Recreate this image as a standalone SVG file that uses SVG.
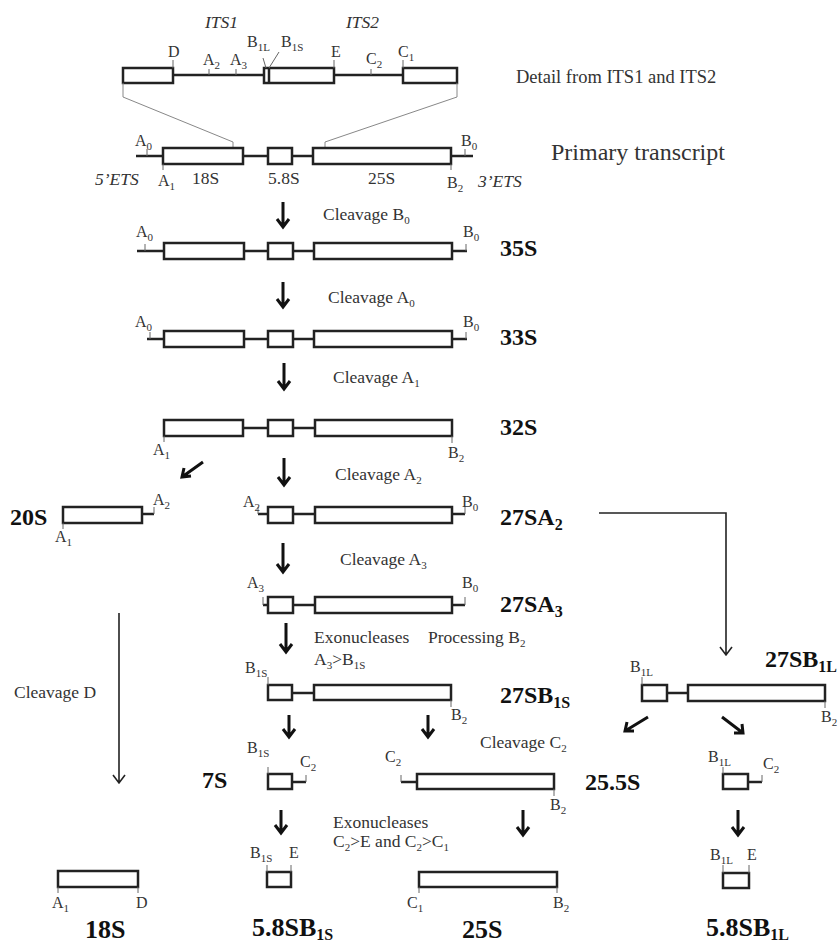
<svg xmlns="http://www.w3.org/2000/svg" width="838" height="945" viewBox="0 0 838 945" font-family="'Liberation Serif', serif">
<style>
text{font-family:"Liberation Serif","Times New Roman",serif;fill:#333}
.l{font-size:16px}
.c{font-size:17.5px}
.i{font-style:italic}
.b{font-size:24px;font-weight:bold;fill:#111}
.bb{font-size:26px;font-weight:bold;fill:#111}
.s{font-size:11px}
.sb{font-size:16px}
.box{fill:#fff;stroke:#222;stroke-width:2.5}
.ln{stroke:#222;stroke-width:2.5;fill:none}
.tk{stroke:#666;stroke-width:1;fill:none}
.zm{stroke:#888;stroke-width:1;fill:none}
.ar{stroke:#111;stroke-width:3;fill:none}
.th{stroke:#222;stroke-width:1.6;fill:none}
</style>
<rect width="838" height="945" fill="#fff"/>

<g id="detail">
<path class="ln" d="M173 75H264M334 75H403"/>
<rect class="box" x="123" y="68" width="50" height="15"/>
<rect class="box" x="264" y="68" width="70" height="15"/>
<path class="ln" d="M269 68V83"/>
<rect class="box" x="403" y="68" width="54" height="15"/>
<path class="tk" d="M173 60V68M209 69V75M236 69V75M334 60V68M371 69V75M403 60V68M263 58L266 68M279 52L269 68"/>
<path class="zm" d="M123 83V97L233 142V149M457 83V97L325 142V149"/>
<text class="c i" x="205" y="28">ITS1</text>
<text class="c i" x="346" y="28">ITS2</text>
<text class="l" x="168" y="57">D</text>
<text class="l" x="203" y="65">A<tspan class="s" dy="4">2</tspan></text>
<text class="l" x="230" y="65">A<tspan class="s" dy="4">3</tspan></text>
<text class="l" x="247" y="47">B<tspan class="s" dy="4">1L</tspan></text>
<text class="l" x="281" y="47">B<tspan class="s" dy="4">1S</tspan></text>
<text class="l" x="331" y="57">E</text>
<text class="l" x="366" y="64">C<tspan class="s" dy="4">2</tspan></text>
<text class="l" x="398" y="57">C<tspan class="s" dy="4">1</tspan></text>
<text x="516" y="83" style="font-size:18.5px">Detail from ITS1 and ITS2</text>
</g>

<g id="primary">
<path class="ln" d="M136 156H473"/>
<rect class="box" x="163" y="148" width="80" height="16"/>
<rect class="box" x="268" y="148" width="24" height="16"/>
<rect class="box" x="313" y="148" width="138" height="16"/>
<path class="tk" d="M147 149V156M465 149V156M163 164V170M451 164V170"/>
<text class="l" x="135" y="146">A<tspan class="s" dy="4">0</tspan></text>
<text class="l" x="461" y="146">B<tspan class="s" dy="4">0</tspan></text>
<text class="l" x="158" y="186">A<tspan class="s" dy="4">1</tspan></text>
<text class="l" x="447" y="188">B<tspan class="s" dy="4">2</tspan></text>
<text class="c" x="192" y="184">18S</text>
<text class="c" x="268" y="184">5.8S</text>
<text class="c" x="368" y="184">25S</text>
<text class="c i" x="95" y="185">5’ETS</text>
<text class="c i" x="478" y="187">3’ETS</text>
<text x="551" y="160" style="font-size:24px">Primary transcript</text>
</g>

<g id="s35">
<path class="ln" d="M137 251H467"/>
<rect class="box" x="164" y="243" width="80" height="16"/>
<rect class="box" x="268" y="243" width="25" height="16"/>
<rect class="box" x="314" y="243" width="138" height="16"/>
<path class="tk" d="M145 244V251M466 244V251"/>
<text class="l" x="136" y="237">A<tspan class="s" dy="4">0</tspan></text>
<text class="l" x="463" y="237">B<tspan class="s" dy="4">0</tspan></text>
<text class="b" x="500" y="256">35S</text>
</g>

<g id="s33">
<path class="ln" d="M147 339H467"/>
<rect class="box" x="164" y="331" width="80" height="16"/>
<rect class="box" x="268" y="331" width="25" height="16"/>
<rect class="box" x="314" y="331" width="138" height="16"/>
<path class="tk" d="M150 332V339M466 332V339"/>
<text class="l" x="135" y="327">A<tspan class="s" dy="4">0</tspan></text>
<text class="l" x="463" y="327">B<tspan class="s" dy="4">0</tspan></text>
<text class="b" x="500" y="345">33S</text>
</g>

<g id="s32">
<path class="ln" d="M244 428H268M293 428H315"/>
<rect class="box" x="164" y="420" width="79" height="16"/>
<rect class="box" x="268" y="420" width="25" height="16"/>
<rect class="box" x="315" y="420" width="137" height="16"/>
<path class="tk" d="M164 436V442M452 436V443"/>
<text class="l" x="153" y="455">A<tspan class="s" dy="4">1</tspan></text>
<text class="l" x="448" y="458">B<tspan class="s" dy="4">2</tspan></text>
<text class="b" x="500" y="435">32S</text>
</g>

<g id="s20">
<path class="ln" d="M142 514H154"/>
<rect class="box" x="63" y="507" width="79" height="16"/>
<path class="tk" d="M154 507V514M63 523V529"/>
<text class="l" x="153" y="505">A<tspan class="s" dy="4">2</tspan></text>
<text class="l" x="55" y="542">A<tspan class="s" dy="4">1</tspan></text>
<text class="b" x="10" y="525">20S</text>
</g>

<g id="s27A2">
<path class="ln" d="M258 514H268M293 514H315M452 514H465"/>
<rect class="box" x="268" y="507" width="25" height="16"/>
<rect class="box" x="315" y="507" width="137" height="16"/>
<path class="tk" d="M258 507V514M465 507V514"/>
<text class="l" x="243" y="507">A<tspan class="s" dy="4">2</tspan></text>
<text class="l" x="462" y="507">B<tspan class="s" dy="4">0</tspan></text>
<text class="b" x="500" y="525">27SA<tspan class="sb" dy="5">2</tspan></text>
</g>

<g id="s27A3">
<path class="ln" d="M263 605H268M293 605H315M452 605H465"/>
<rect class="box" x="268" y="597" width="25" height="16"/>
<rect class="box" x="315" y="597" width="137" height="16"/>
<path class="tk" d="M263 597V605M465 597V605"/>
<text class="l" x="247" y="588">A<tspan class="s" dy="4">3</tspan></text>
<text class="l" x="462" y="588">B<tspan class="s" dy="4">0</tspan></text>
<text class="b" x="500" y="612">27SA<tspan class="sb" dy="5">3</tspan></text>
</g>

<g id="s27B1S">
<path class="ln" d="M292 693H314"/>
<rect class="box" x="268" y="685" width="24" height="15"/>
<rect class="box" x="314" y="685" width="137" height="15"/>
<path class="tk" d="M268 677V685M451 700V707"/>
<text class="l" x="245" y="673">B<tspan class="s" dy="4">1S</tspan></text>
<text class="l" x="451" y="720">B<tspan class="s" dy="4">2</tspan></text>
<text class="b" x="500" y="703">27SB<tspan class="sb" dy="5">1S</tspan></text>
</g>

<g id="s27B1L">
<path class="ln" d="M667 693H688"/>
<rect class="box" x="642" y="685" width="25" height="16"/>
<rect class="box" x="688" y="685" width="137" height="16"/>
<path class="tk" d="M642 677V685M825 701V708"/>
<text class="l" x="630" y="672">B<tspan class="s" dy="4">1L</tspan></text>
<text class="l" x="821" y="722">B<tspan class="s" dy="4">2</tspan></text>
<text class="b" x="765" y="667">27SB<tspan class="sb" dy="5">1L</tspan></text>
</g>

<g id="s7S">
<path class="ln" d="M292 782H306"/>
<rect class="box" x="268" y="774" width="24" height="15"/>
<path class="tk" d="M268 767V774M306 775V782"/>
<text class="l" x="247" y="753">B<tspan class="s" dy="4">1S</tspan></text>
<text class="l" x="300" y="767">C<tspan class="s" dy="4">2</tspan></text>
<text class="b" x="202" y="788">7S</text>
</g>

<g id="s255">
<path class="ln" d="M401 782H417"/>
<rect class="box" x="417" y="774" width="137" height="15"/>
<path class="tk" d="M401 775V782M554 789V796"/>
<text class="l" x="385" y="762">C<tspan class="s" dy="4">2</tspan></text>
<text class="l" x="550" y="810">B<tspan class="s" dy="4">2</tspan></text>
<text class="b" x="585" y="790">25.5S</text>
</g>

<g id="s7L">
<path class="ln" d="M748 782H762"/>
<rect class="box" x="723" y="774" width="25" height="15"/>
<path class="tk" d="M723 767V774M762 775V782"/>
<text class="l" x="708" y="762">B<tspan class="s" dy="4">1L</tspan></text>
<text class="l" x="763" y="769">C<tspan class="s" dy="4">2</tspan></text>
</g>

<g id="f18S">
<rect class="box" x="58" y="871" width="80" height="16"/>
<path class="tk" d="M58 887V893M138 887V893"/>
<text class="l" x="52" y="908">A<tspan class="s" dy="4">1</tspan></text>
<text class="l" x="136" y="908">D</text>
<text class="bb" x="85" y="938">18S</text>
</g>

<g id="f58S">
<rect class="box" x="267" y="872" width="24" height="15"/>
<path class="tk" d="M267 865V872M291 865V872"/>
<text class="l" x="250" y="858">B<tspan class="s" dy="4">1S</tspan></text>
<text class="l" x="289" y="858">E</text>
<text class="bb" x="252" y="936">5.8SB<tspan class="sb" dy="4">1S</tspan></text>
</g>

<g id="f25S">
<rect class="box" x="419" y="872" width="138" height="15"/>
<path class="tk" d="M419 887V893M557 887V893"/>
<text class="l" x="407" y="908">C<tspan class="s" dy="4">1</tspan></text>
<text class="l" x="553" y="908">B<tspan class="s" dy="4">2</tspan></text>
<text class="bb" x="462" y="938">25S</text>
</g>

<g id="f58L">
<rect class="box" x="723" y="873" width="26" height="15"/>
<path class="tk" d="M723 865V873M749 865V873"/>
<text class="l" x="710" y="860">B<tspan class="s" dy="4">1L</tspan></text>
<text class="l" x="747" y="860">E</text>
<text class="bb" x="706" y="936">5.8SB<tspan class="sb" dy="4">1L</tspan></text>
</g>

<g id="connectors">
<path class="ar" d="M283 202V227M277 219L283 227L289 219"/>
<path class="ar" d="M283 282V307M277 299L283 307L289 299"/>
<path class="ar" d="M284 363V389M278 381L284 389L290 381"/>
<path class="ar" d="M284 458V485M278 477L284 485L290 477"/>
<path class="ar" d="M283 543V572M277 564L283 572L289 564"/>
<path class="ar" d="M286 623V652M280 644L286 652L292 644"/>
<path class="ar" d="M289 715V737M283 729L289 737L295 729"/>
<path class="ar" d="M428 715V737M422 729L428 737L434 729"/>
<path class="ar" d="M281 810V833M275 825L281 833L287 825"/>
<path class="ar" d="M523 810V835M517 827L523 835L529 827"/>
<path class="ar" d="M738 810V835M732 827L738 835L744 827"/>
<path class="ar" d="M203 462L182 477M184 468L182 477L191 476"/>
<path class="ar" d="M648 717L625 731M627 722L625 731L634 731"/>
<path class="ar" d="M722 717L743 733M742 724L743 733L734 733"/>
<path class="th" d="M119 613V783M113 775L119 783L125 775"/>
<path class="th" d="M599 513H726V655M720 647L726 655L732 647"/>
<text class="c" x="323" y="220">Cleavage B<tspan class="s" dy="4">0</tspan></text>
<text class="c" x="328" y="303">Cleavage A<tspan class="s" dy="4">0</tspan></text>
<text class="c" x="333" y="383">Cleavage A<tspan class="s" dy="4">1</tspan></text>
<text class="c" x="335" y="480">Cleavage A<tspan class="s" dy="4">2</tspan></text>
<text class="c" x="340" y="565">Cleavage A<tspan class="s" dy="4">3</tspan></text>
<text class="c" x="14" y="698">Cleavage D</text>
<text class="c" x="314" y="643">Exonucleases</text>
<text class="c" x="314" y="665">A<tspan class="s" dy="4">3</tspan><tspan dy="-4">&gt;B</tspan><tspan class="s" dy="4">1S</tspan></text>
<text class="c" x="428" y="643">Processing B<tspan class="s" dy="4">2</tspan></text>
<text class="c" x="480" y="748">Cleavage C<tspan class="s" dy="4">2</tspan></text>
<text class="c" x="333" y="828">Exonucleases</text>
<text class="c" x="333" y="847">C<tspan class="s" dy="4">2</tspan><tspan dy="-4">&gt;E and C</tspan><tspan class="s" dy="4">2</tspan><tspan dy="-4">&gt;C</tspan><tspan class="s" dy="4">1</tspan></text>
</g>
</svg>
